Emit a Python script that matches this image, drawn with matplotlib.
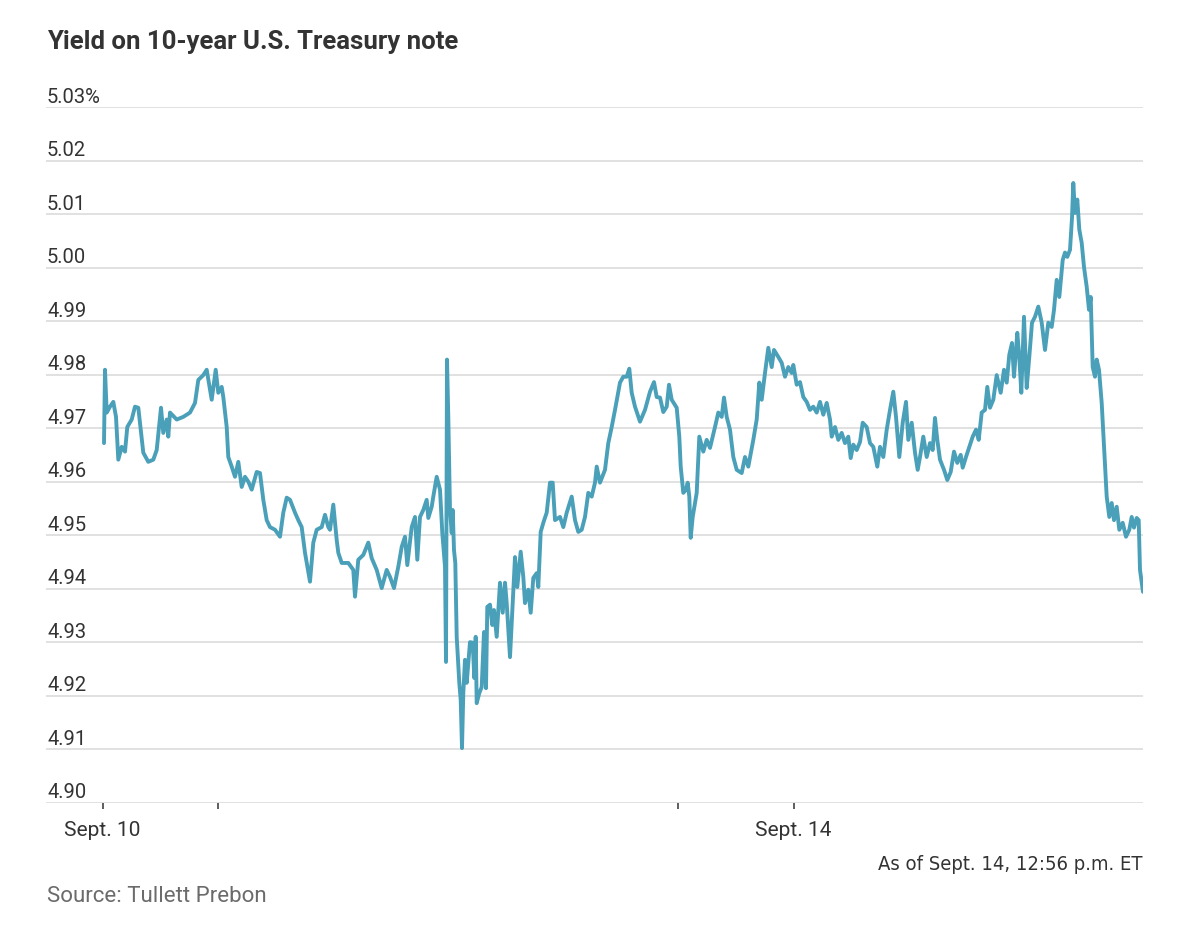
import matplotlib
matplotlib.use("Agg")
import matplotlib.pyplot as plt
import matplotlib.transforms as mtransforms
from matplotlib import font_manager as fm

# ---- data (position index along the x axis, yield in %) ----
t_index = [
    104, 105, 106.7, 110, 113.3, 116, 118.3, 121.7, 125, 127.3, 131.7, 135, 138.3, 143.3, 148.3,
    153.3, 156.7, 161, 163.3, 166.7, 168.3, 170, 176.7, 183.3, 190, 195, 198.3, 203.3, 206.7,
    211.7, 215.7, 218.3, 221.7, 223.3, 226.7, 228.3, 231.7, 235, 238.3, 241.7, 245, 248.3,
    251.7, 256.7, 260, 263.3, 266.7, 270, 275, 280, 283.3, 286.7, 290, 295, 298.3, 301.7,
    305, 310, 313.3, 316.7, 321.7, 325, 328.3,
    330, 333.3, 336.7, 338.3, 341.7, 348.3, 353.3, 355, 358.3, 363.3, 368.3, 371.7, 376.7,
    381.7, 386.7, 390, 394, 398.3, 401.7, 405, 407.3, 411.7, 415, 417.3, 420, 423.3, 426.7,
    428.3, 431.7, 433.3, 436.7, 440, 442.3, 445, 446, 447, 448.3, 450, 451.7, 452.7, 454,
    455.3, 456.7, 459.3, 460.7, 462, 463.3, 465, 466.7, 470, 472.7, 474.3, 475.7, 476.7,
    479.3, 481.7, 484, 486, 487.3, 490, 492.3, 494, 496.7, 500, 502.7, 505, 506.7, 510,
    512.7, 515, 517.3, 520.7, 523.3, 525, 528.3, 530.7, 533.3, 536.7, 538.3, 540.7, 543.3,
    546.7, 550, 552.7, 555, 560, 563.3, 566.7, 571.7, 575, 578.3, 581.7, 585, 588.3, 591.7,
    595, 596.7,
    600, 605, 608.3, 611.7, 615, 620, 623.3, 626.7, 629.3, 631.7, 635, 640, 645, 650, 654,
    656.7, 660, 663.3, 666.7, 669, 671.7, 676.7, 679.3, 680.7, 683.3, 686, 687.7, 689.3,
    690.7, 692.7, 696.7, 699.3, 703.3, 706.7, 710, 715, 718.3, 721.7, 724, 726.7, 730,
    733.3, 736.7, 741.7, 745, 748.3, 753.3, 756.7, 759.3, 761.7, 765, 768.3, 771.7, 774,
    778.3, 781.7, 785, 788.3, 791.7, 793.3, 796.7, 800, 803.3, 806.7, 810, 813.3, 816.7,
    820, 823.3, 826.7, 830, 831.7, 835, 838.3, 841.7, 845, 848.3, 850.7, 853.3, 856.7, 860,
    862.7, 866.7, 870, 873.3, 877.3,
    880, 883.3, 886.7, 890, 893.3, 896, 899.3, 902.7, 906, 908.3, 911.7, 915, 917.7, 920,
    923.3, 926.7, 930, 932.7, 935, 937.3, 940, 944, 947.3, 950.7, 954, 957.3, 960.7, 962.7,
    966, 969.3, 972.7, 976, 978.7, 981.7, 985, 987.3, 990, 993.3, 996.7, 1000.7, 1004,
    1006.7, 1009.3, 1012, 1014, 1017.3, 1019.3, 1021.3, 1024, 1026.7, 1029.3, 1032, 1035,
    1038.3, 1041.7, 1045, 1048.3, 1051.7, 1054, 1056.7, 1059.3, 1062.7, 1065, 1067.3, 1070,
    1072, 1073.3, 1075, 1077.3, 1079.3, 1081.7, 1084, 1086.7, 1089, 1090.7, 1092.7, 1095,
    1096.7, 1099, 1101.7, 1104, 1106.7, 1109.3, 1111.7, 1114, 1116.7, 1119.3, 1122.7, 1126,
    1129.3, 1131.7, 1134, 1136.7, 1138.7, 1140, 1143,
]

yield_pct = [
    4.9672, 4.9809, 4.9729, 4.9740, 4.9749, 4.9721, 4.9641, 4.9665, 4.9656, 4.9702, 4.9716,
    4.9740, 4.9738, 4.9654, 4.9637, 4.9641, 4.9659, 4.9738, 4.9691, 4.9716, 4.9684, 4.9729,
    4.9716, 4.9721, 4.9729, 4.9747, 4.9790, 4.9799, 4.9809, 4.9753, 4.9809, 4.9766, 4.9777,
    4.9758, 4.9702, 4.9646, 4.9628, 4.9609, 4.9637, 4.9590, 4.9609, 4.9600, 4.9585, 4.9618,
    4.9616, 4.9566, 4.9528, 4.9515, 4.9510, 4.9497, 4.9542, 4.9570, 4.9566, 4.9542, 4.9528,
    4.9515, 4.9467, 4.9413, 4.9486, 4.9510, 4.9515, 4.9538, 4.9515,
    4.9510, 4.9557, 4.9491, 4.9467, 4.9448, 4.9448, 4.9435, 4.9385, 4.9454, 4.9463, 4.9486,
    4.9457, 4.9435, 4.9401, 4.9435, 4.9422, 4.9401, 4.9441, 4.9478, 4.9497, 4.9444, 4.9515,
    4.9534, 4.9454, 4.9534, 4.9547, 4.9566, 4.9532, 4.9553, 4.9572, 4.9609, 4.9585, 4.9504,
    4.9441, 4.9263, 4.9828, 4.9721, 4.9547, 4.9504, 4.9547, 4.9472, 4.9448, 4.9310, 4.9224,
    4.9192, 4.9102, 4.9205, 4.9267, 4.9224, 4.9300, 4.9299, 4.9233, 4.9310, 4.9186, 4.9205,
    4.9216, 4.9319, 4.9214, 4.9366, 4.9370, 4.9332, 4.9360, 4.9310, 4.9411, 4.9355, 4.9411,
    4.9373, 4.9272, 4.9373, 4.9459, 4.9403, 4.9469, 4.9422, 4.9373, 4.9398, 4.9355, 4.9420,
    4.9429, 4.9403, 4.9506, 4.9523, 4.9542, 4.9598, 4.9598, 4.9528, 4.9534, 4.9515, 4.9542,
    4.9572, 4.9528, 4.9506, 4.9510, 4.9534, 4.9579, 4.9572, 4.9598, 4.9628,
    4.9598, 4.9622, 4.9672, 4.9702, 4.9734, 4.9785, 4.9796, 4.9796, 4.9811, 4.9766, 4.9740,
    4.9712, 4.9734, 4.9768, 4.9786, 4.9758, 4.9757, 4.9730, 4.9740, 4.9781, 4.9753, 4.9738,
    4.9684, 4.9628, 4.9579, 4.9585, 4.9598, 4.9572, 4.9495, 4.9534, 4.9579, 4.9684, 4.9656,
    4.9678, 4.9663, 4.9702, 4.9729, 4.9721, 4.9757, 4.9721, 4.9697, 4.9646, 4.9622, 4.9616,
    4.9646, 4.9628, 4.9678, 4.9716, 4.9785, 4.9753, 4.9803, 4.9850, 4.9814, 4.9846, 4.9833,
    4.9822, 4.9796, 4.9814, 4.9803, 4.9818, 4.9781, 4.9786, 4.9758, 4.9749, 4.9734, 4.9740,
    4.9729, 4.9749, 4.9725, 4.9747, 4.9716, 4.9684, 4.9702, 4.9678, 4.9691, 4.9672, 4.9684,
    4.9644, 4.9669, 4.9659, 4.9674, 4.9710, 4.9702, 4.9672, 4.9665, 4.9628,
    4.9665, 4.9646, 4.9697, 4.9734, 4.9768, 4.9721, 4.9646, 4.9710, 4.9749, 4.9678, 4.9710,
    4.9654, 4.9622, 4.9646, 4.9684, 4.9646, 4.9672, 4.9659, 4.9719, 4.9678, 4.9641, 4.9622,
    4.9603, 4.9618, 4.9656, 4.9635, 4.9650, 4.9626, 4.9646, 4.9665, 4.9684, 4.9697, 4.9678,
    4.9729, 4.9734, 4.9777, 4.9738, 4.9753, 4.9799, 4.9766, 4.9809, 4.9785, 4.9837, 4.9859,
    4.9796, 4.9878, 4.9833, 4.9766, 4.9908, 4.9775, 4.9833, 4.9897, 4.9908, 4.9927, 4.9897,
    4.9846, 4.9897, 4.9889, 4.9921, 4.9977, 4.9945, 5.0014, 5.0028, 5.0020, 5.0033, 5.0093,
    5.0158, 5.0102, 5.0127, 5.0071, 5.0046, 5.0001, 4.9964, 4.9921, 4.9945, 4.9814, 4.9796,
    4.9828, 4.9809, 4.9747, 4.9665, 4.9572, 4.9534, 4.9560, 4.9528, 4.9553, 4.9510, 4.9523,
    4.9497, 4.9510, 4.9534, 4.9514, 4.9532, 4.9528, 4.9435, 4.9394,
]

y_ticks = [4.90, 4.91, 4.92, 4.93, 4.94, 4.95, 4.96, 4.97, 4.98, 4.99, 5.00, 5.01, 5.02, 5.03]
y_tick_labels = ["4.90", "4.91", "4.92", "4.93", "4.94", "4.95", "4.96", "4.97", "4.98",
                 "4.99", "5.00", "5.01", "5.02", "5.03%"]
x_ticks = [102.5, 217.7, 678.3, 793.5]
x_tick_labels = ["Sept. 10", "", "", "Sept. 14"]

title = "Yield on 10-year U.S. Treasury note"
note = "As of Sept. 14, 12:56 p.m. ET"
source = "Source: Tullett Prebon"

# ---- styling ----
FONT = ["Roboto", "DejaVu Sans"]
plt.rcParams["font.family"] = FONT
TXT = "#333333"
GRID = "#dedede"
LINE = "#4aa0b9"

# use a condensed face for the timestamp note if one is installed
narrow_names = {f.name for f in fm.fontManager.ttflist
                if f.stretch in ("condensed", "semi-condensed", "extra-condensed") or "Narrow" in f.name
                or "Condensed" in f.name}
if "Liberation Sans Narrow" in narrow_names:
    NOTE_KW = dict(family=["Liberation Sans Narrow"], fontsize=16)
elif "DejaVu Sans Condensed" in narrow_names or any(
        f.name == "DejaVu Sans" and f.stretch == "condensed" for f in fm.fontManager.ttflist):
    NOTE_KW = dict(family=["DejaVu Sans"], fontstretch="condensed", fontsize=14.5)
else:
    NOTE_KW = dict(family=FONT, fontsize=13.5)

W, H = 1200, 947
fig = plt.figure(figsize=(W / 100, H / 100), dpi=100)
left, right, top, bottom = 46, 1143, 107, 802.7
ax = fig.add_axes([left / W, 1 - bottom / H, (right - left) / W, (bottom - top) / H])

ax.plot(t_index, yield_pct, color=LINE, lw=2.8, solid_joinstyle="round", solid_capstyle="round",
        zorder=3)

ax.set_xlim(left, right)
ax.set_ylim(4.90, 5.03)

for s in ax.spines.values():
    s.set_visible(False)

ax.set_yticks(y_ticks)
ax.set_yticklabels([])
ax.tick_params(axis="y", length=0)
ax.yaxis.grid(True, color=GRID, lw=1.3, zorder=0)
ax.xaxis.grid(False)
ax.set_axisbelow(True)

ax.set_xticks(x_ticks)
ax.set_xticklabels(x_tick_labels, fontsize=15, color=TXT)
ax.tick_params(axis="x", length=4, width=1.1, color=TXT, pad=9, direction="out")

offset = mtransforms.ScaledTranslation(1 / 100, 4.5 / 100, fig.dpi_scale_trans)
ytrans = ax.get_yaxis_transform() + offset
for v, lab in zip(y_ticks, y_tick_labels):
    ax.text(0, v, lab, transform=ytrans, ha="left", va="baseline", fontsize=14.5, color=TXT)

fig.text(47 / W, 1 - 49 / H, title, ha="left", va="baseline", fontsize=18.5,
         fontweight="bold", color=TXT)
fig.text(1142 / W, 1 - 870 / H, note, ha="right", va="baseline", color=TXT, **NOTE_KW)
fig.text(47 / W, 1 - 902 / H, source, ha="left", va="baseline", fontsize=16, color="#6b6b6b")

fig.savefig("out.png", dpi=100, facecolor="white")
